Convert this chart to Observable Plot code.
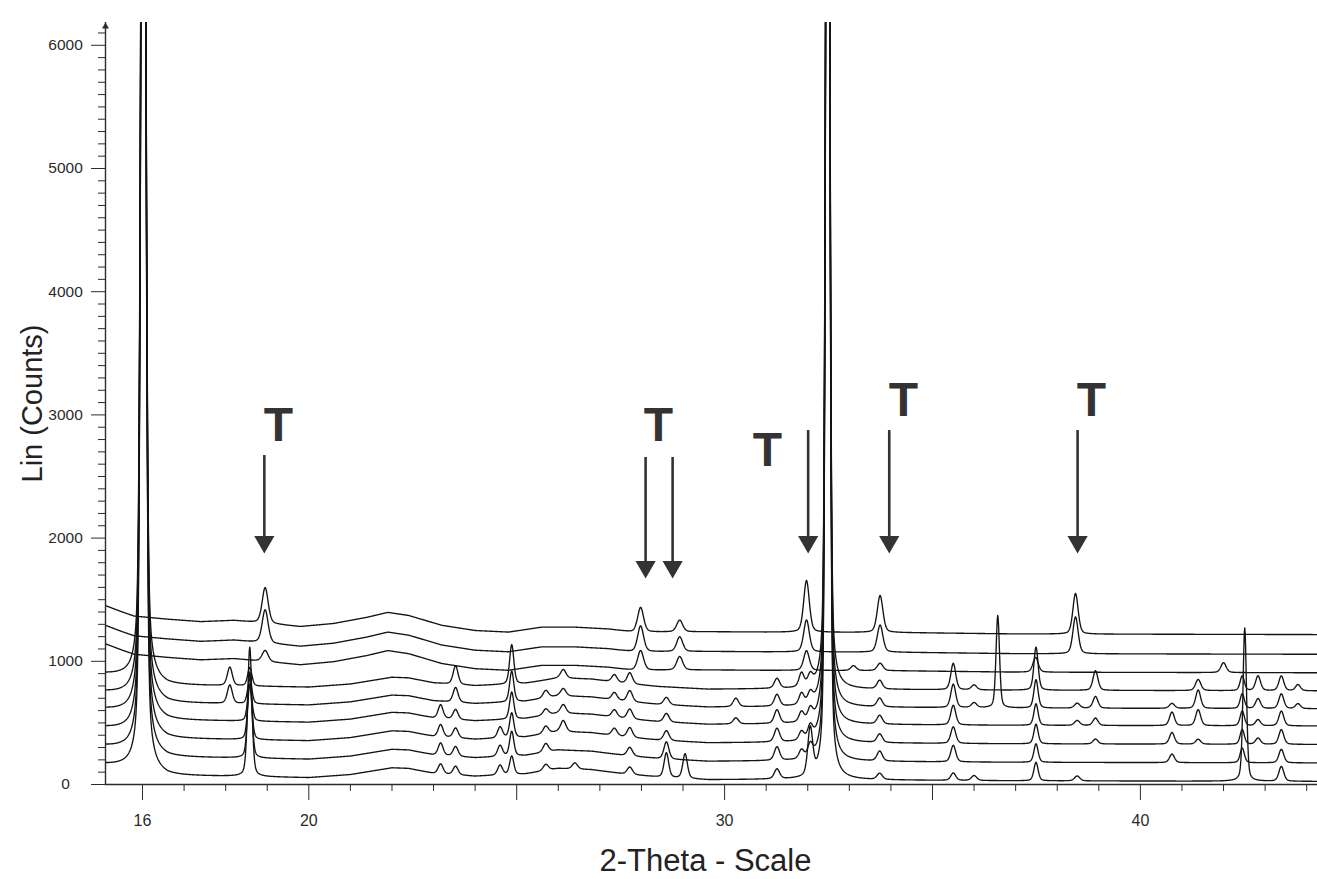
<!DOCTYPE html>
<html><head><meta charset="utf-8">
<script src="https://cdn.jsdelivr.net/npm/d3@7"></script>
<script src="https://cdn.jsdelivr.net/npm/@observablehq/plot@0.6"></script>
<style>html,body{margin:0;padding:0;background:#fff}#chart svg{display:block}</style>
</head><body><div id="chart"></div>
<script>
// ---------- data ----------
// nine stacked XRD traces, bottom (1) to top (9); flat background level of each trace (counts)
const traceOffsets = [30, 180, 330, 480, 620, 765, 912, 1062, 1222];
const traceGroup   = ["L", "L", "L", "L", "L", "L", "T", "T", "T"];
// background shape (added to offset) for the upper "T" traces
const bgKnotsT = [15.11, 15.5, 15.8, 16.6, 17.4, 18.2, 19.0, 19.8, 20.6, 21.4, 21.9, 22.4, 23.2, 24.0, 24.8, 25.6, 26.4, 27.2, 27.8, 29.6, 31.0, 34.0, 37.0, 44.26];
const bgValsT  = [230, 180, 145, 120, 100, 110, 85, 60, 85, 135, 175, 150, 70, 28, 15, 55, 55, 40, 15, 18, 15, 12, 0, -5];
// background shape for the lower six traces
const bgKnotsL = [15.11, 15.5, 15.85, 16.6, 18.0, 20.0, 21.0, 22.0, 22.4, 23.0, 24.0, 25.2, 26.0, 26.8, 27.6, 28.4, 29.6, 31.0, 37.0, 44.26];
const bgValsL  = [130, 115, 95, 40, 35, 25, 50, 105, 100, 60, 37, 55, 100, 90, 55, 30, 8, 10, 0, -5];
// peaks per trace: [2-theta, height (counts), FWHM (deg)]
const peaks1 = [[16.02,12000,0.12],[18.58,1050,0.12],[23.17,80,0.14],[23.53,70,0.14],[24.6,80,0.14],[24.88,150,0.12],[25.7,50,0.15],[26.4,50,0.15],[27.72,60,0.15],[28.6,200,0.13],[29.05,200,0.13],[31.26,80,0.15],[32.06,380,0.14],[32.48,12000,0.1],[33.73,50,0.15],[35.5,60,0.14],[36.0,40,0.15],[37.49,150,0.12],[38.48,40,0.15],[42.51,1245,0.1],[43.39,120,0.14]];
const peaks2 = [[16.02,12000,0.12],[18.58,700,0.12],[23.17,100,0.14],[23.53,80,0.14],[24.6,90,0.14],[24.88,200,0.12],[25.7,70,0.15],[27.72,70,0.15],[28.6,140,0.14],[31.26,110,0.15],[31.85,70,0.14],[32.06,100,0.14],[32.48,12000,0.1],[33.73,80,0.15],[35.5,135,0.14],[37.49,150,0.12],[40.76,70,0.14],[42.45,120,0.12],[43.39,110,0.14]];
const peaks3 = [[16.02,12000,0.12],[18.58,450,0.12],[23.17,100,0.14],[23.53,80,0.14],[24.6,90,0.14],[24.88,200,0.12],[25.7,60,0.15],[26.12,90,0.15],[27.35,60,0.15],[27.72,80,0.15],[28.6,80,0.15],[31.26,110,0.15],[31.85,70,0.14],[32.06,100,0.14],[32.48,12000,0.1],[33.73,70,0.15],[35.5,135,0.14],[37.49,160,0.12],[38.92,40,0.14],[40.76,95,0.14],[41.39,40,0.14],[42.45,120,0.12],[42.83,50,0.14],[43.39,120,0.14]];
const peaks4 = [[16.02,12000,0.12],[18.58,300,0.12],[23.17,110,0.14],[23.53,80,0.14],[24.88,220,0.12],[25.7,50,0.15],[26.12,70,0.15],[27.35,60,0.15],[27.72,80,0.15],[28.6,70,0.15],[30.27,50,0.15],[31.26,110,0.15],[31.85,80,0.14],[32.06,90,0.14],[32.48,12000,0.1],[33.73,70,0.15],[35.5,160,0.14],[37.49,175,0.12],[38.48,40,0.15],[38.92,60,0.14],[40.76,110,0.14],[41.39,130,0.14],[42.45,120,0.12],[42.83,50,0.14],[43.39,120,0.14]];
const peaks5 = [[16.02,12000,0.12],[18.1,150,0.14],[18.58,200,0.12],[23.53,120,0.14],[24.88,250,0.12],[25.7,60,0.15],[26.12,60,0.15],[27.35,60,0.15],[27.72,90,0.15],[28.6,60,0.15],[30.27,70,0.15],[31.26,95,0.15],[31.85,90,0.14],[32.06,80,0.14],[32.48,12000,0.1],[33.73,70,0.15],[35.5,190,0.14],[36.0,40,0.15],[36.57,750,0.1],[37.49,230,0.12],[38.48,40,0.15],[38.92,95,0.14],[40.76,40,0.15],[41.39,150,0.14],[42.45,120,0.12],[42.83,80,0.14],[43.39,120,0.14],[43.79,40,0.14]];
const peaks6 = [[16.02,12000,0.12],[18.1,150,0.14],[18.58,150,0.12],[23.53,150,0.14],[24.88,320,0.12],[26.12,70,0.15],[27.35,60,0.15],[27.72,90,0.15],[31.26,80,0.15],[31.85,110,0.14],[32.06,80,0.14],[32.48,12000,0.1],[33.73,70,0.15],[35.5,215,0.14],[36.0,40,0.15],[37.49,350,0.12],[38.92,160,0.14],[41.39,90,0.15],[42.45,120,0.12],[42.83,120,0.14],[43.39,120,0.14],[43.79,50,0.14]];
const peaks7 = [[18.95,90,0.17],[27.98,160,0.17],[28.92,110,0.17],[31.97,160,0.16],[33.1,40,0.15],[33.74,60,0.16],[37.48,120,0.15],[42.0,80,0.15]];
const peaks8 = [[18.95,270,0.17],[27.98,210,0.17],[28.92,120,0.17],[31.97,260,0.16],[33.74,220,0.16],[38.44,300,0.15]];
const peaks9 = [[18.95,290,0.17],[27.98,200,0.17],[28.92,95,0.17],[31.97,420,0.16],[33.74,300,0.16],[38.44,330,0.15]];
const tracePeaks = [peaks1, peaks2, peaks3, peaks4, peaks5, peaks6, peaks7, peaks8, peaks9];

// annotations ("T" labels and arrows), in data units
const tLabelX = [19.27, 28.41, 31.03, 34.30, 38.82];
const tLabelY = [2792, 2792, 2589, 2995, 2995];
const arrowX   = [18.93, 28.10, 28.75, 32.01, 33.96, 38.49];
const arrowTop = [2670, 2654, 2654, 2873, 2873, 2873];
const arrowTip = [1875, 1672, 1672, 1875, 1875, 1875];

// axes
const xDomain = [15.11, 44.26];
const yDomain = [0, 6185];
const xLabelTicks = [16, 20, 30, 40];
const xMajorTicks = [16, 20, 25, 30, 35, 40];
const yMajorTicks = [0, 1000, 2000, 3000, 4000, 5000, 6000];

// ---------- build the profiles ----------
const eta = 0.35;
function peakShape(x, p, h, w) {
  const u = (x - p) / (w / 2);
  return h * (eta / (1 + u * u) + (1 - eta) * Math.exp(-Math.LN2 * u * u));
}
const bgT = d3.scaleLinear().domain(bgKnotsT).range(bgValsT);
const bgL = d3.scaleLinear().domain(bgKnotsL).range(bgValsL);
const grid = d3.range(xDomain[0], xDomain[1] + 1e-9, 0.01);
const rows = [];
traceOffsets.forEach((off, i) => {
  const bg = traceGroup[i] === "T" ? bgT : bgL;
  const pk = tracePeaks[i];
  for (const x of grid) {
    let y = off + bg(x);
    for (const [p, h, w] of pk) y += peakShape(x, p, h, w);
    rows.push({x, y, trace: i});
  }
});
const tLabels = tLabelX.map((x, i) => ({x, y: tLabelY[i]}));
const arrows = arrowX.map((x, i) => ({x, top: arrowTop[i], tip: arrowTip[i]}));

const ink = "#2b2b2b";
const chart = Plot.plot({
  width: 1317, height: 879,
  marginLeft: 105, marginRight: 0, marginTop: 22, marginBottom: 95,
  style: {fontFamily: "'Liberation Sans', Arial, Helvetica, sans-serif", background: "#fff", color: ink},
  x: {domain: xDomain},
  y: {domain: yDomain},
  marks: [
    Plot.line(rows, {x: "x", y: "y", z: "trace", stroke: "#141414", strokeWidth: 1.35, clip: true}),
    // axes lines
    Plot.ruleX([xDomain[0]], {stroke: ink, strokeWidth: 1.4}),
    Plot.ruleY([0], {stroke: ink, strokeWidth: 1.4}),
    Plot.dot([{x: xDomain[0], y: yDomain[1]}], {x: "x", y: "y", symbol: "triangle", r: 2.6, fill: ink, stroke: "none", dy: 4}),
    // y axis ticks
    Plot.axisY({ticks: d3.range(100, 6101, 100).filter(d => d % 1000 !== 0), tickSize: 7, fill: "none", stroke: ink}),
    Plot.axisY({ticks: yMajorTicks, tickSize: 14, tickPadding: 26, textAnchor: "middle", tickFormat: d => String(d), fontSize: 15.5, fill: ink, stroke: ink, label: null}),
    // x axis ticks
    Plot.axisX({ticks: d3.range(16, 45).filter(d => !xMajorTicks.includes(d)), tickSize: 7, fill: "none", stroke: ink}),
    Plot.axisX({ticks: xMajorTicks, tickSize: 16, fill: "none", stroke: ink}),
    Plot.axisX({ticks: xLabelTicks, tickSize: 0, tickPadding: 30, tickFormat: d => String(d), fontSize: 16, fill: ink, label: null}),
    // axis titles
    Plot.text(["Lin (Counts)"], {frameAnchor: "left", dx: -73, rotate: -90, textAnchor: "middle", lineAnchor: "middle", fontSize: 29, fill: "#222"}),
    Plot.text(["2-Theta - Scale"], {frameAnchor: "bottom", dx: -6, dy: 86, textAnchor: "middle", fontSize: 31, fill: "#222"}),
    // annotations
    Plot.ruleX(arrows, {x: "x", y1: "top", y2: d => d.tip + 110, stroke: "#333", strokeWidth: 2.6}),
    Plot.dot(arrows, {x: "x", y: "tip", symbol: "triangle", r: 7.5, rotate: 180, fill: "#333", stroke: "none", dy: -11.6}),
    Plot.text(tLabels, {x: "x", y: "y", text: () => "T", fontSize: 48, fontWeight: "bold", lineAnchor: "bottom", fill: "#333"})
  ]
});
document.getElementById("chart").appendChild(chart);
</script>
</body></html>
